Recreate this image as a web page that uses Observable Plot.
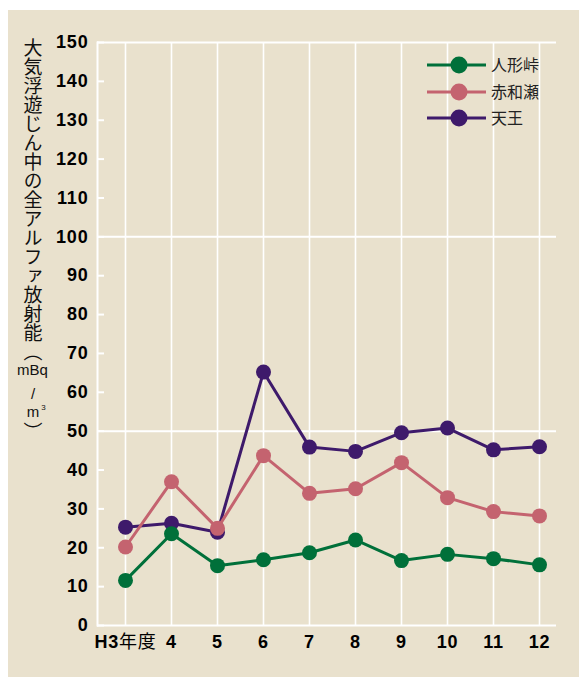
<!DOCTYPE html>
<html>
<head>
<meta charset="utf-8">
<script src="https://cdn.jsdelivr.net/npm/d3@7"></script>
<script src="https://cdn.jsdelivr.net/npm/@observablehq/plot@0.6"></script>
<style>
  html, body { margin: 0; padding: 0; background: #ffffff; }
  #wrap { position: relative; width: 579px; height: 677px; overflow: hidden; }
  #bg { position: absolute; left: 8px; top: 10px; right: 0; bottom: 0; background: #e9e1cd; }
  #chart { position: absolute; left: 0; top: 0; }
  #chart svg text { letter-spacing: 0.8px; }
  #overlay { position: absolute; left: 0; top: 0; pointer-events: none; }
</style>
</head>
<body>
<div id="wrap">
  <div id="bg"></div>
  <div id="chart"></div>
  <div id="overlay"></div>
</div>
<script>
const years = ["H3年度", "4", "5", "6", "7", "8", "9", "10", "11", "12"];
const ningyotoge = [11.6, 23.6, 15.4, 16.9, 18.7, 22.0, 16.7, 18.3, 17.2, 15.6];
const akawase = [20.2, 37.0, 25.0, 43.7, 34.0, 35.2, 41.9, 32.9, 29.3, 28.2];
const tenno = [25.3, 26.3, 24.0, 65.2, 45.9, 44.8, 49.6, 50.8, 45.2, 46.0];
const seriesNames = ["人形峠", "赤和瀬", "天王"];
const seriesColors = ["#00703a", "#c4636f", "#3e1a6b"];
const yTicks = d3.range(0, 151, 10);
const yGrid = [0, 50, 100, 150];
const yTitleMain = "大気浮遊じん中の全アルファ放射能（";
const yTitleUnit = ["mBq", "/", "m", "3"];
const yTitleClose = "）";

const seriesValues = [ningyotoge, akawase, tenno];
const rowsFor = (vals) => years.map((y, i) => ({year: y, value: vals[i]}));

const seriesMarks = [];
for (const k of [2, 1, 0]) {
  const rows = rowsFor(seriesValues[k]);
  seriesMarks.push(Plot.line(rows, {x: "year", y: "value", stroke: seriesColors[k], strokeWidth: 3}));
  seriesMarks.push(Plot.dot(rows, {x: "year", y: "value", r: 7.5, fill: seriesColors[k], stroke: "none"}));
}

const chart = Plot.plot({
  width: 579,
  height: 677,
  marginLeft: 97,
  marginRight: 23,
  marginTop: 42,
  marginBottom: 52,
  style: {background: "transparent", fontFamily: "'Liberation Sans', Arial, 'Noto Sans CJK JP', sans-serif", color: "#000"},
  x: {type: "point", domain: years, range: [124, 539], padding: 0},
  y: {domain: [0, 150]},
  marks: [
    Plot.ruleX(years, {stroke: "white", strokeWidth: 1.6}),
    Plot.ruleY(yGrid, {stroke: "white", strokeWidth: 2}),
    Plot.frame({anchor: "left", stroke: "white", strokeWidth: 2}),
    Plot.axisY({ticks: yTicks, tickSize: 7, dx: 7, tickFormat: () => "", stroke: "white", strokeWidth: 2, label: null}),
    Plot.axisY({ticks: yTicks, tickSize: 0, tickPadding: 9, fontSize: 18, fontWeight: "bold", fill: "#000", label: null}),
    Plot.axisX({tickSize: 0, tickPadding: 10, fontSize: 18, fontWeight: "bold", fill: "#000", label: null}),
    ...seriesMarks
  ]
});
document.getElementById("chart").appendChild(chart);

// first x label: "H3" bold, "年度" regular
d3.select(chart).selectAll("text").each(function() {
  const t = d3.select(this);
  if (t.text() === years[0]) {
    t.text("");
    t.append("tspan").text("H3");
    t.append("tspan").attr("font-weight", "normal").attr("font-family", "'Noto Sans CJK JP', sans-serif").text("年度");
  }
});

const ov = d3.select("#overlay").append("svg").attr("width", 579).attr("height", 677);

// y-axis title
const jp = "'Noto Sans CJK JP', sans-serif";
const lat = "'Liberation Sans', Arial, sans-serif";
ov.append("text").attr("x", 33).attr("y", 38)
  .style("writing-mode", "vertical-rl")
  .attr("font-family", jp).attr("font-size", 19).attr("fill", "#111")
  .text(yTitleMain);
ov.append("text").attr("x", 32.5).attr("y", 375).attr("text-anchor", "middle")
  .style("font-size", "15px").attr("font-family", lat).attr("fill", "#111").text(yTitleUnit[0]);
ov.append("text").attr("x", 33).attr("y", 399).attr("text-anchor", "middle")
  .style("font-size", "15px").attr("font-family", lat).attr("fill", "#111").text(yTitleUnit[1]);
ov.append("text").attr("x", 33).attr("y", 417).attr("text-anchor", "middle")
  .style("font-size", "15px").attr("font-family", lat).attr("fill", "#111").text(yTitleUnit[2]);
ov.append("text").attr("x", 43.5).attr("y", 410).attr("text-anchor", "middle")
  .style("font-size", "8px").attr("font-family", lat).attr("fill", "#111").text(yTitleUnit[3]);
ov.append("text").attr("x", 33).attr("y", 422)
  .style("writing-mode", "vertical-rl")
  .attr("font-family", jp).attr("font-size", 19).attr("fill", "#111")
  .text(yTitleClose);

// legend
const ly = [65, 92, 118];
[0, 1, 2].forEach((k, i) => {
  const g = ov.append("g").attr("transform", `translate(0,${ly[i]})`);
  g.append("line").attr("x1", 427).attr("x2", 486).attr("y1", 0).attr("y2", 0)
    .attr("stroke", seriesColors[k]).attr("stroke-width", 3);
  g.append("circle").attr("cx", 459).attr("cy", 0).attr("r", 8.5).attr("fill", seriesColors[k]);
  g.append("text").attr("x", 491).attr("y", 0).attr("dy", "0.35em")
    .attr("font-family", jp).attr("font-size", 16).attr("fill", "#222")
    .text(seriesNames[k]);
});
</script>
</body>
</html>
